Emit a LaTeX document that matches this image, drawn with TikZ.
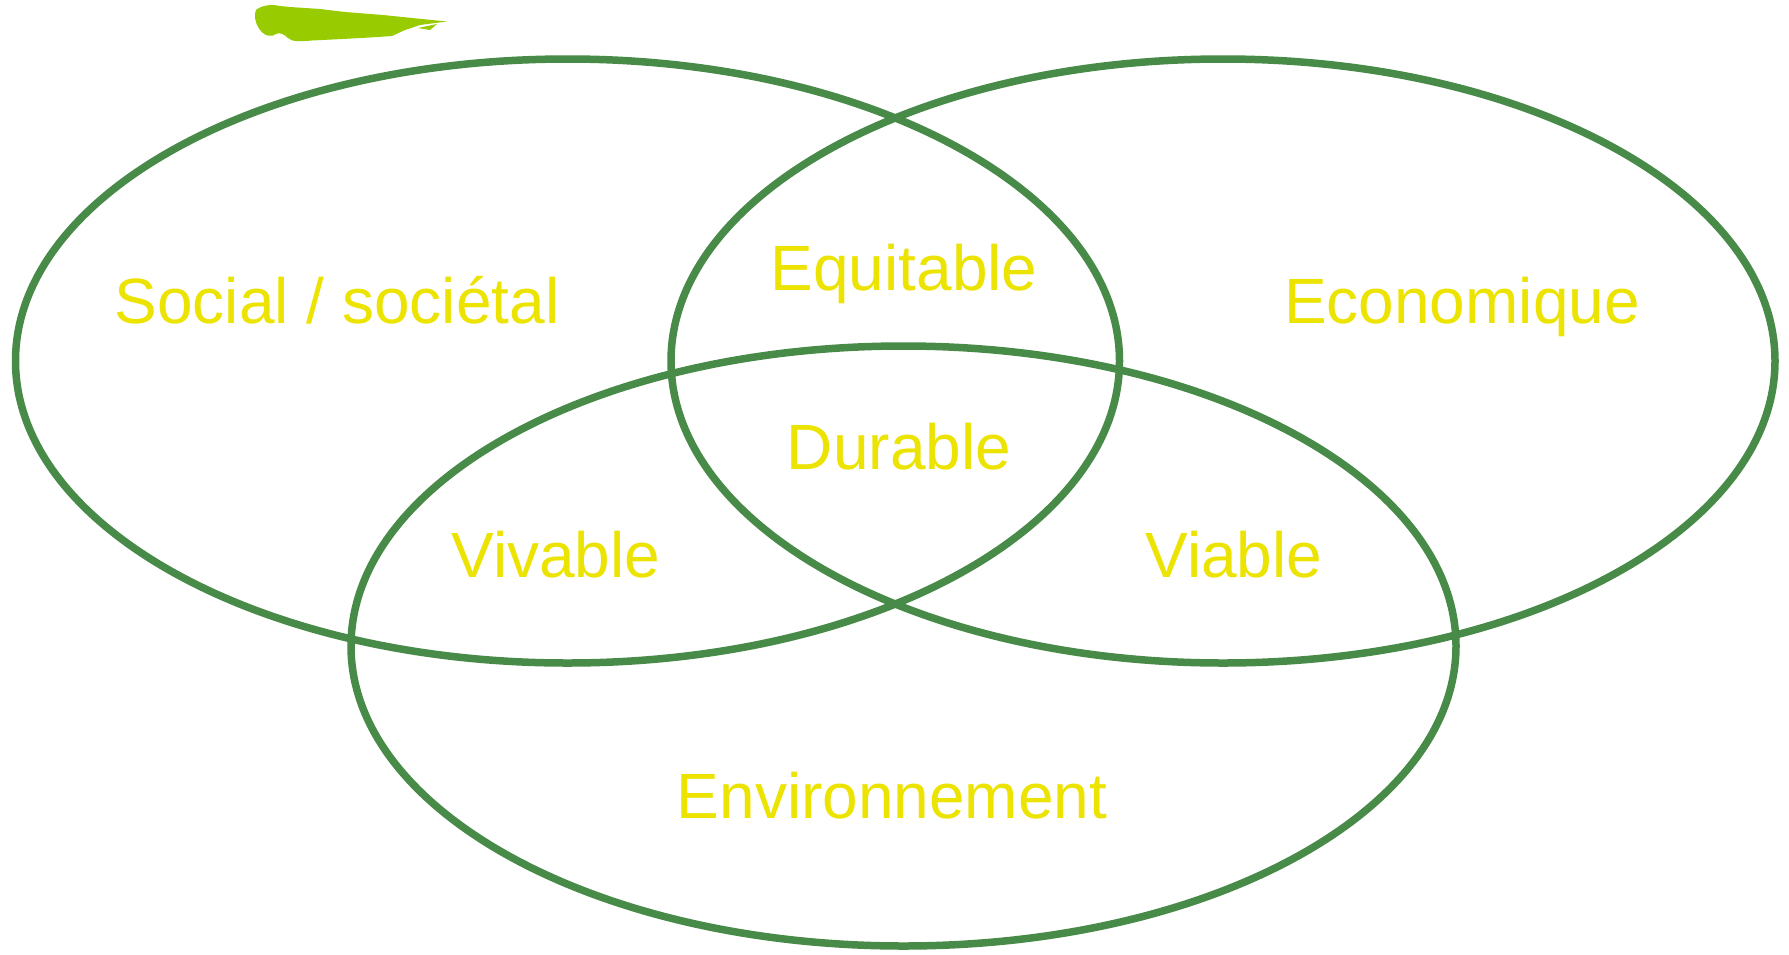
\documentclass[tikz,border=0pt]{standalone}
\usepackage{fontspec}
\setmainfont{Liberation Sans}
\definecolor{ringgreen}{RGB}{72,139,72}
\definecolor{labelyellow}{RGB}{236,228,0}
\definecolor{brushgreen}{RGB}{153,204,0}
\tikzset{
  ring/.style={draw=ringgreen, line width=7.5pt},
  lbl/.style={text=labelyellow, anchor=base, inner sep=0pt, font=\fontsize{64}{77}\selectfont}
}
\begin{document}
\begin{tikzpicture}[x=1pt,y=-1pt]
\useasboundingbox (0,0) rectangle (1789,954);
\fill[white] (0,0) rectangle (1789,954);
% brush stroke
\fill[brushgreen] (256,10) .. controls (262,5) and (272,4) .. (280,6)
  -- (290,7) -- (320,9) -- (345,12) -- (383,15) -- (417,18.5) -- (447,21.5)
  -- (420,25) -- (405,30) -- (392,36) -- (370,37.5) -- (342,39) -- (312,40.5)
  .. controls (300,41.5) and (292,42) .. (288,38)
  .. controls (284,34) and (279,32) .. (276,34)
  .. controls (272,37) and (266,36) .. (263,33)
  .. controls (257,28) and (253,18) .. (256,10) -- cycle;
\fill[brushgreen] (418,28) -- (437,24) -- (430,30) -- cycle;
% ellipses
\draw[ring] (567.5,361) ellipse [x radius=552, y radius=302];
\draw[ring] (1223,361) ellipse [x radius=552, y radius=302];
\draw[ring] (903.5,646) ellipse [x radius=552.5, y radius=300];
% labels
\node[lbl] (social) at (337,323) {Social / sociétal};
\node[lbl] (equit) at (904,290) {Equitable};
\node[lbl] (econ) at (1462,323) {Economique};
\node[lbl] (dur) at (899,469) {Durable};
\node[lbl] (viv) at (556,577) {Vivable};
\node[lbl] (via) at (1234,577) {Viable};
\node[lbl] (env) at (892,818) {Environnement};
\end{tikzpicture}
\end{document}
